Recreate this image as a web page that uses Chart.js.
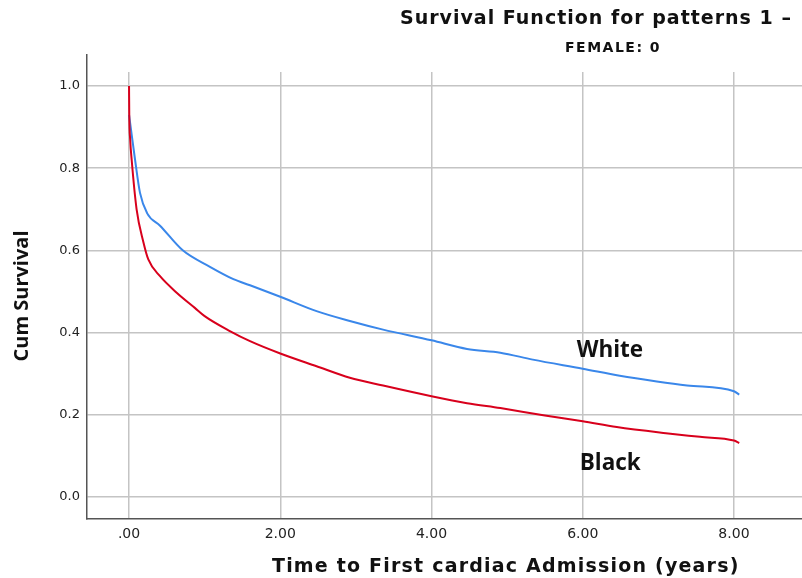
<!DOCTYPE html>
<html>
<head>
<meta charset="utf-8">
<script src="https://cdn.jsdelivr.net/npm/chart.js@4.4.1/dist/chart.umd.min.js"></script>
<style>
  html, body { margin: 0; padding: 0; background: #fff; }
  #wrap { width: 802px; height: 578px; position: relative; }
</style>
</head>
<body>
<div id="wrap"><canvas id="c" width="802" height="578"></canvas></div>
<script>
// ---- data ----
const whiteTime = [0, 0.036, 0.08, 0.145, 0.24, 0.41, 0.71, 1.07, 1.38, 1.6, 2.0, 2.48, 2.92, 3.36, 4.0, 4.47, 4.91, 5.34, 6.0, 6.49, 6.98, 7.38, 8.0, 8.07];
const whiteSurv = [0.93, 0.88, 0.82, 0.74, 0.69, 0.66, 0.60, 0.56, 0.53, 0.515, 0.487, 0.452, 0.428, 0.407, 0.381, 0.36, 0.351, 0.334, 0.312, 0.295, 0.281, 0.271, 0.257, 0.249];
const blackTime = [0, 0.003, 0.015, 0.035, 0.1, 0.19, 0.255, 0.41, 0.63, 0.87, 1.0, 1.34, 1.6, 2.0, 2.48, 2.92, 3.36, 4.0, 4.47, 4.91, 5.5, 6.0, 6.45, 7.1, 7.55, 8.0, 8.07];
const blackSurv = [1.0, 0.93, 0.87, 0.82, 0.70, 0.62, 0.578, 0.537, 0.497, 0.46, 0.44, 0.403, 0.379, 0.349, 0.318, 0.29, 0.271, 0.245, 0.228, 0.216, 0.198, 0.184, 0.17, 0.155, 0.146, 0.137, 0.131];
const xTicks = [0, 2, 4, 6, 8];
const xTickLabels = ['.00', '2.00', '4.00', '6.00', '8.00'];
const yTicks = [0, 0.2, 0.4, 0.6, 0.8, 1.0];
const yTickLabels = ['0.0', '0.2', '0.4', '0.6', '0.8', '1.0'];

const toPts = (t, s) => t.map((v, i) => ({ x: v, y: s[i] }));

const textPlugin = {
  id: 'texts',
  beforeDatasetsDraw(chart) {
    const { ctx, chartArea } = chart;
    ctx.save();
    ctx.fillStyle = '#fff';
    ctx.fillRect(chartArea.left + 1, chartArea.top, chartArea.right - chartArea.left, 72 - chartArea.top);
    ctx.restore();
  },
  afterDraw(chart) {
    const { ctx } = chart;
    const xs = chart.scales.x, ys = chart.scales.y;
    ctx.save();
    ctx.fillStyle = '#111';
    ctx.textBaseline = 'middle';
    ctx.letterSpacing = '1px';
    ctx.font = 'bold 19px "DejaVu Sans"';
    ctx.textAlign = 'left';
    ctx.fillText('Survival Function for patterns 1 \u2013', 400, 19);
    ctx.letterSpacing = '1.5px';
    ctx.font = 'bold 14px "DejaVu Sans"';
    ctx.textAlign = 'left';
    ctx.fillText('FEMALE: 0', 565, 48);
    ctx.letterSpacing = '1.2px';
    ctx.font = 'bold 19px "DejaVu Sans"';
    ctx.fillText('Time to First cardiac Admission (years)', 272, 567);
    ctx.letterSpacing = '0px';
    ctx.textAlign = 'center';
    ctx.save();
    ctx.translate(22, 296);
    ctx.rotate(-Math.PI / 2);
    ctx.font = 'bold 20px "Open Sans"';
    ctx.fillText('Cum Survival', 0, 0);
    ctx.restore();
    ctx.font = 'bold 22.5px "Open Sans"';
    ctx.textAlign = 'left';
    ctx.fillText('White', xs.getPixelForValue(5.92), ys.getPixelForValue(0.357));
    ctx.fillText('Black', xs.getPixelForValue(5.96), ys.getPixelForValue(0.082));
    ctx.restore();
  }
};

new Chart(document.getElementById('c'), {
  type: 'line',
  data: {
    datasets: [
      { label: 'Black', data: toPts(blackTime, blackSurv), borderColor: '#d8001c', borderWidth: 2, pointRadius: 0, cubicInterpolationMode: 'monotone', fill: false },
      { label: 'White', data: toPts(whiteTime, whiteSurv), borderColor: '#3a87ea', borderWidth: 2, pointRadius: 0, cubicInterpolationMode: 'monotone', fill: false }
    ]
  },
  options: {
    responsive: false,
    animation: false,
    layout: { padding: { top: 55, right: 0, left: 0, bottom: 0 } },
    plugins: { legend: { display: false }, tooltip: { enabled: false }, title: { display: false } },
    scales: {
      x: {
        type: 'linear',
        min: -0.556, max: 8.9,
        afterBuildTicks: s => { s.ticks = xTicks.map(v => ({ value: v })); },
        afterFit: s => { s.height = 59; },
        ticks: {
          padding: 7,
          color: '#222',
          font: { family: 'DejaVu Sans', size: 14 },
          callback: (v) => xTickLabels[xTicks.indexOf(v)] ?? ''
        },
        grid: { color: '#c4c4c4', lineWidth: 1.5, drawTicks: false },
        border: { color: '#555', width: 1.5 }
      },
      y: {
        type: 'linear',
        min: -0.054, max: 1.0756,
        afterBuildTicks: s => { s.ticks = yTicks.map(v => ({ value: v })); },
        afterFit: s => { s.width = 87; },
        ticks: {
          padding: 7,
          color: '#222',
          font: { family: 'DejaVu Sans', size: 13 },
          callback: (v) => { const i = yTicks.findIndex(t => Math.abs(t - v) < 1e-9); return i >= 0 ? yTickLabels[i] : ''; }
        },
        grid: { color: '#c4c4c4', lineWidth: 1.5, drawTicks: false },
        border: { color: '#555', width: 1.5 }
      }
    }
  },
  plugins: [textPlugin]
});
</script>
</body>
</html>
